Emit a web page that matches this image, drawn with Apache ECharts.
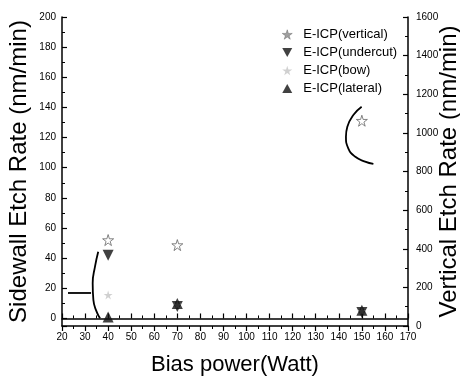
<!DOCTYPE html>
<html>
<head>
<meta charset="utf-8">
<script src="https://cdn.jsdelivr.net/npm/echarts@6/dist/echarts.min.js"></script>
<style>html,body{margin:0;padding:0;background:#fff}#c{width:460px;height:376px}</style>
</head>
<body>
<div id="c"></div>
<script>
// Data
const biasPower = [40, 70, 150];
const verticalRate = [445, 419, 1063];   // right axis (nm/min)
const undercutRate = [42, 8, 4];          // left axis (nm/min)
const bowRate = [15.6, 9, 5];
const lateralRate = [1, 10, 5.5];
// annotation curves (data coordinates, left axis)
const bracketLeftX = [35.7, 34.3, 33.3, 33.6, 35.0, 36.5];
const bracketLeftY = [44.3, 34.4, 23.4, 12.3, 4.5, 0.1];
const arrowX = [22.6, 32.6];
const arrowY = [16.9, 16.9];
const arcX = [149.9, 146.3, 143.7, 143.1, 144.1, 147.0, 151.4, 155.0];
const arcY = [140.5, 135, 127.2, 120.6, 112.9, 107.4, 104.1, 102.5];

const starPath = 'path://M50,0 L61,35 L98,35 L68,57 L79,91 L50,70 L21,91 L32,57 L2,35 L39,35 Z';
const downTri = 'path://M0,0 L100,0 L50,90 Z';
const upTri = 'path://M50,0 L100,90 L0,90 Z';
const zip = (a, b) => a.map((v, i) => [v, b[i]]);
const FONT = 'Liberation Sans, Arial, sans-serif';

const axisCommon = {
  axisLine: { show: true, lineStyle: { color: '#000', width: 1.5 } },
  axisTick: { show: true, inside: true, length: 5, lineStyle: { color: '#000', width: 1.2 } },
  minorTick: { show: true, splitNumber: 2, length: 3, lineStyle: { color: '#000', width: 1 } },
  splitLine: { show: false },
  axisLabel: { color: '#000', fontSize: 10, fontFamily: FONT }
};

const chart = echarts.init(document.getElementById('c'), null, { renderer: 'canvas' });
chart.setOption({
  animation: false,
  backgroundColor: '#fff',
  grid: { left: 62, right: 52, top: 17, bottom: 50, containLabel: false, outerBoundsMode: 'none' },
  legend: {
    orient: 'vertical', left: 277, top: 23, itemWidth: 10, itemHeight: 10, itemGap: 5,
    textStyle: { fontSize: 13, fontFamily: FONT, color: '#000', padding: [0, 0, 0, 6] },
    data: [
      { name: 'E-ICP(vertical)', icon: starPath, itemStyle: { color: '#888', borderColor: '#555', borderWidth: 0.5 } },
      { name: 'E-ICP(undercut)', icon: downTri },
      { name: 'E-ICP(bow)', icon: starPath },
      { name: 'E-ICP(lateral)', icon: upTri }
    ]
  },
  xAxis: [
    Object.assign({}, axisCommon, {
      type: 'value', min: 20, max: 170, interval: 10, position: 'bottom',
      axisLabel: Object.assign({}, axisCommon.axisLabel, { margin: 6 }),
      name: 'Bias power(Watt)', nameLocation: 'middle', nameGap: 28, nameMoveOverlap: false,
      nameTextStyle: { fontSize: 22, fontFamily: FONT, color: '#000' }
    }),
    Object.assign({}, axisCommon, {
      type: 'value', min: 20, max: 170, interval: 10, position: 'top',
      axisLabel: { show: false }
    })
  ],
  yAxis: [
    Object.assign({}, axisCommon, {
      type: 'value', min: -5, max: 200, minInterval: 20, maxInterval: 20, splitNumber: 10,
      position: 'left',
      axisLabel: Object.assign({}, axisCommon.axisLabel, { margin: 6, formatter: v => v < 0 ? '' : v }),
      name: 'Sidewall Etch Rate (nm/min)', nameLocation: 'middle', nameGap: 31, nameRotate: 90, nameMoveOverlap: false,
      nameTextStyle: { fontSize: 24, fontFamily: FONT, color: '#000' }
    }),
    Object.assign({}, axisCommon, {
      type: 'value', min: 0, max: 1600, interval: 200, position: 'right',
      axisLabel: Object.assign({}, axisCommon.axisLabel, { margin: 8, formatter: v => String(v) }),
      name: 'Vertical Etch Rate (nm/min)', nameLocation: 'middle', nameGap: 29.5, nameRotate: 90, nameMoveOverlap: false,
      nameTextStyle: { fontSize: 24, fontFamily: FONT, color: '#000' }
    })
  ],
  series: [
    { name: 'E-ICP(vertical)', type: 'scatter', yAxisIndex: 1, symbol: starPath, symbolSize: 11,
      itemStyle: { color: '#fff', borderColor: '#666', borderWidth: 1 }, data: zip(biasPower, verticalRate) },
    { name: 'E-ICP(undercut)', type: 'scatter', yAxisIndex: 0, symbol: downTri, symbolSize: 11,
      itemStyle: { color: '#111' }, data: zip(biasPower, undercutRate) },
    { name: 'E-ICP(bow)', type: 'scatter', yAxisIndex: 0, symbol: starPath, symbolSize: 9,
      itemStyle: { color: '#c4c4c4' }, data: zip(biasPower, bowRate) },
    { name: 'E-ICP(lateral)', type: 'scatter', yAxisIndex: 0, symbol: upTri, symbolSize: 11,
      itemStyle: { color: '#111' }, data: zip(biasPower, lateralRate) },
    { type: 'line', yAxisIndex: 0, smooth: true, symbol: 'none', silent: true,
      lineStyle: { color: '#000', width: 1.8 }, data: zip(bracketLeftX, bracketLeftY) },
    { type: 'line', yAxisIndex: 0, symbol: 'none', silent: true,
      lineStyle: { color: '#000', width: 1.8 }, data: zip(arrowX, arrowY) },
    { type: 'line', yAxisIndex: 0, smooth: true, symbol: 'none', silent: true,
      lineStyle: { color: '#000', width: 1.8 }, data: zip(arcX, arcY) }
  ]
});
</script>
</body>
</html>
